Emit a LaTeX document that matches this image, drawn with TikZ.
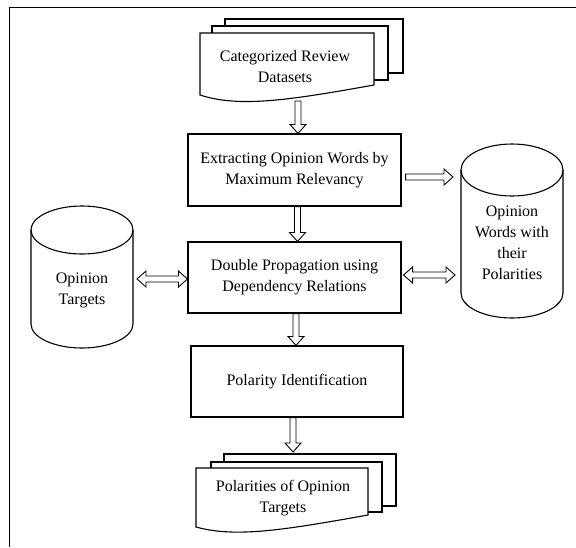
\documentclass[tikz,border=0pt]{standalone}
\usepackage{fontspec}
\setmainfont{Liberation Serif}
\usetikzlibrary{calc}
\newcommand\harrow[2]{\draw[arrowline] let \p1=(#1), \p2=(#2), \n1={atan2(\y2-\y1,\x2-\x1)}, \n2={veclen(\x2-\x1,\y2-\y1)} in [shift={(\p1)}, rotate=\n1] (0pt,3pt) -- ({\n2*1pt-9pt},3pt) -- ({\n2*1pt-9pt},8pt) -- ({\n2*1pt},0pt) -- ({\n2*1pt-9pt},-8pt) -- ({\n2*1pt-9pt},-3pt) -- (0pt,-3pt) -- cycle;}
\newcommand\hdarrow[2]{\draw[arrowline] let \p1=(#1), \p2=(#2), \n1={atan2(\y2-\y1,\x2-\x1)}, \n2={veclen(\x2-\x1,\y2-\y1)} in [shift={(\p1)}, rotate=\n1] (0pt,0pt) -- (9pt,8pt) -- (9pt,3pt) -- ({\n2*1pt-9pt},3pt) -- ({\n2*1pt-9pt},8pt) -- ({\n2*1pt},0pt) -- ({\n2*1pt-9pt},-8pt) -- ({\n2*1pt-9pt},-3pt) -- (9pt,-3pt) -- (9pt,-8pt) -- cycle;}
\begin{document}
\begin{tikzpicture}[x=1pt,y=-1pt,
  font=\fontsize{16}{21}\selectfont,
  box/.style={draw,line width=1.1pt,minimum width=213pt,minimum height=72pt,align=center,inner sep=0pt},
  sheet/.style={draw,line width=1.1pt,fill=white},
  cyl/.style={draw,line width=1.1pt},
  arrowline/.style={draw,line width=0.9pt,line join=miter},
  lbl/.style={align=center,inner sep=0pt}]
\useasboundingbox (0,0) rectangle (576,547);
% frame
\draw[line width=1.6pt] (9.5,547) -- (9.5,7.5) -- (576,7.5);

% top document stack
\draw[sheet] (225,19) rectangle (403,73);
\draw[sheet] (212,26) rectangle (388,80);
\draw[sheet] (200,33) -- (374,33) -- (374,85) .. controls (290,100) and (240,108) .. (200,95) -- cycle;
\node[lbl] (docin) at (285,67) {Categorized Review\\Datasets};
\coordinate (docinb) at (298,101);

% boxes
\node[box] (b1) at (294.5,170) {Extracting Opinion Words by\\Maximum Relevancy};
\node[box,minimum height=71pt] (b2) at (294.5,277.5) {Double Propagation using\\Dependency Relations};
\node[box,minimum width=212pt,minimum height=71pt] (b3) at (297,381.5) {Polarity Identification};

% bottom document stack
\draw[sheet] (224,454) rectangle (396,506);
\draw[sheet] (211,462) rectangle (382,512);
\draw[sheet] (196,468) -- (368,468) -- (368,515) .. controls (284,530) and (236,538) .. (196,527) -- cycle;
\node[lbl] (docout) at (283,498) {Polarities of Opinion\\Targets};
\coordinate (docoutt) at (293,452);

% left cylinder
\draw[cyl] (31,230) -- (31,324) arc[start angle=180,end angle=0,x radius=51,y radius=24] -- (133,230);
\draw[cyl] (82,230) ellipse[x radius=51,y radius=24];
\node[lbl] (ot) at (82,290) {Opinion\\Targets};
\coordinate (otr) at (137,279);

% right cylinder
\draw[cyl] (461,170) -- (461,293) arc[start angle=180,end angle=0,x radius=51,y radius=25] -- (563,170);
\draw[cyl] (512,170) ellipse[x radius=51,y radius=26];
\node[lbl] (ow) at (512,243) {Opinion\\Words with\\their\\Polarities};
\coordinate (owl1) at (453,177);
\coordinate (owl2) at (455,275);

% arrows
\harrow{docinb}{docinb |- b1.north}
\harrow{$(b1.south)+(3,0)$}{$(b2.north)+(3,0)$}
\harrow{$(b2.south)+(1.5,0)$}{$(b3.north)+(-1,0)$}
\harrow{docoutt |- b3.south}{docoutt}
\harrow{$(b1.east |- owl1)+(4,0)$}{owl1}
\hdarrow{otr}{b2.west |- otr}
\hdarrow{$(b2.east |- owl2)+(2,0)$}{owl2}
\end{tikzpicture}
\end{document}
